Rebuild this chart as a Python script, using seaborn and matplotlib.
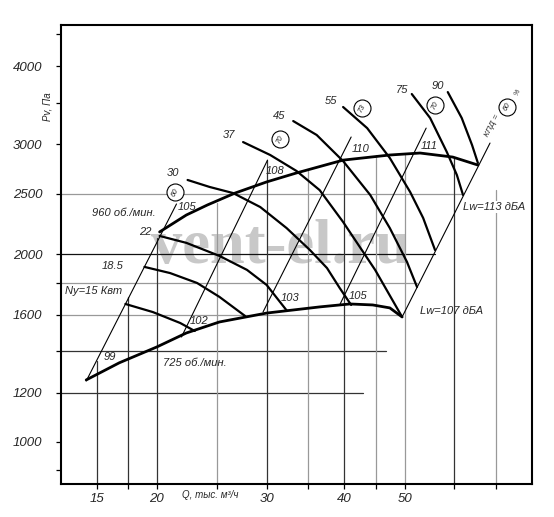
import matplotlib
matplotlib.use("Agg")
import matplotlib.pyplot as plt
import seaborn as sns
import numpy as np
from matplotlib.ticker import NullFormatter

# Speed curves (Q in thousand m3/h, Pv in Pa)
q_960 = [20.2, 22.3, 24.1, 26.7, 30.0, 33.5, 39.8, 47.3, 52.9, 59.7, 65.5]
p_960 = [2171, 2311, 2398, 2506, 2611, 2699, 2830, 2884, 2905, 2862, 2779]
q_725 = [15.4, 17.4, 20.0, 22.3, 25.2, 30.0, 36.5, 40.8, 44.4, 47.3, 49.5]
p_725 = [1257, 1339, 1420, 1495, 1557, 1609, 1646, 1664, 1658, 1640, 1586]

# Power curves, kW
power_labels = ["15", "18.5", "22", "30", "37", "45", "55", "75", "90"]
power_q = [
    [17.8, 19.7, 21.8, 23.0],
    [19.1, 21.0, 23.2, 25.2, 27.7],
    [20.2, 22.3, 25.2, 27.9, 30.0, 32.3],
    [22.4, 24.3, 26.5, 29.3, 32.3, 35.2, 37.5, 39.3, 41.0],
    [27.5, 30.4, 33.5, 36.5, 39.8, 44.8, 49.5],
    [33.1, 36.1, 39.8, 44.0, 47.3, 50.4, 52.3],
    [39.8, 43.5, 47.3, 51.0, 53.5, 55.9],
    [51.3, 54.9, 58.4, 60.6, 62.0],
    [58.6, 61.7, 64.1, 65.5],
]
power_p = [
    [1664, 1615, 1551, 1506],
    [1908, 1865, 1798, 1708, 1592],
    [2139, 2085, 1987, 1887, 1785, 1625],
    [2630, 2563, 2506, 2380, 2202, 2031, 1900, 1765, 1658],
    [3025, 2884, 2719, 2533, 2252, 1887, 1586],
    [3269, 3105, 2820, 2488, 2202, 1943, 1772],
    [3443, 3185, 2852, 2515, 2286, 2031],
    [3612, 3306, 2915, 2679, 2488],
    [3638, 3306, 2992, 2800],
]

# Efficiency lines (start / end)
eff_labels = ["60", "70", "73", "70", "60"]
eff_q = [[15.4, 21.5], [21.9, 30.1], [29.6, 41.0], [39.3, 54.1], [49.5, 68.5]]
eff_p = [[1252, 2407], [1473, 2830], [1615, 3082], [1658, 3185], [1586, 3014]]

# Partial grid lines
hgrid_p = [1200, 1400, 1600, 1800, 2000, 2500]
hgrid_qend = [42.8, 46.6, 49.5, 52.3, 55.8, 61.7]
hgrid_col = ["#333333", "#333333", "#999999", "#999999", "#111111", "#999999"]
vgrid_q = [16, 18, 20, 25, 30, 35, 40, 45, 50, 60, 70]
vgrid_ptop = [1348, 1708, 2123, 2415, 2830, 2720, 2830, 2884, 2884, 2852, 2533]
vgrid_col = ["#333333", "#333333", "#333333", "#999999", "#333333", "#999999",
             "#333333", "#999999", "#999999", "#333333", "#999999"]

x_major = [16, 20, 30, 40, 50]
x_major_labels = ["15", "20", "30", "40", "50"]
x_minor = [18, 25, 35, 45, 60, 70]
y_major = [1000, 1200, 1600, 2000, 2500, 3000, 4000]
y_minor = [900, 1400, 1800, 3500, 4500]

sns.set_style("white")
plt.rcParams['font.family'] = ['Liberation Sans', 'DejaVu Sans']

fig = plt.figure(figsize=(5.54, 5.17), dpi=100)
ax = fig.add_axes([0.1101, 0.0638, 0.8502, 0.8878])
ax.set_xscale('log')
ax.set_yscale('log')
ax.set_xlim(14.03, 80.0)
ax.set_ylim(856, 4660)

# watermark
ax.text(31.6, 1936, "vent-el.ru", ha='center', va='baseline', fontsize=45,
        family='Liberation Serif', weight='bold', color='#c8c8c8', zorder=0.5)

# grid lines
for p, qe, c in zip(hgrid_p, hgrid_qend, hgrid_col):
    ax.plot([14.03, qe], [p, p], color=c, lw=0.9, zorder=1)
for q, pt, c in zip(vgrid_q, vgrid_ptop, vgrid_col):
    ax.plot([q, q], [856, pt], color=c, lw=0.9, zorder=1)

# efficiency lines
for q, p in zip(eff_q, eff_p):
    sns.lineplot(x=q, y=p, ax=ax, color='black', lw=0.8, sort=False,
                 estimator=None, zorder=2)

# power curves
for q, p in zip(power_q, power_p):
    sns.lineplot(x=q, y=p, ax=ax, color='black', lw=1.6, sort=False,
                 estimator=None, zorder=3)

# speed curves
sns.lineplot(x=q_960, y=p_960, ax=ax, color='black', lw=2.0, sort=False,
             estimator=None, zorder=4)
sns.lineplot(x=q_725, y=p_725, ax=ax, color='black', lw=2.0, sort=False,
             estimator=None, zorder=4)

# efficiency circles
circ_q = [21.4, 31.5, 42.7, 55.9, 72.9]
circ_p = [2515, 3059, 3430, 3468, 3443]
ax.scatter(circ_q, circ_p, s=150, facecolor='white', edgecolor='black',
           lw=0.8, zorder=5)
for q, p, t in zip(circ_q, circ_p, eff_labels):
    ax.text(q, p, t, rotation=63, ha='center', va='center', fontsize=5.5,
            style='italic', zorder=6)
ax.text(69.2, 3210, "КПД =", rotation=63, ha='center', va='center',
        fontsize=6, style='italic', zorder=6)
ax.text(75.9, 3638, "%", rotation=63, ha='center', va='center',
        fontsize=5, style='italic', zorder=6)

# labels
txt = dict(fontsize=8, style='italic', zorder=6)
ax.text(15.73, 2328, "960 об./мин.", ha='left', va='center', **txt)
ax.text(20.45, 1339, "725 об./мин.", ha='left', va='center', **txt)
ax.text(14.23, 1746, "Ny=15 Квт", ha='left', va='center', **txt)
ax.text(17.0, 1915, "18.5", ha='center', va='center', **txt)
ax.text(19.13, 2171, "22", ha='center', va='center', **txt)
power_text_q = [21.2, 26.1, 31.4, 38.0, 49.5, 56.5]
power_text_p = [2699, 3105, 3330, 3520, 3665, 3720]
for q, p, t in zip(power_text_q, power_text_p, power_labels[3:]):
    ax.text(q, p, t, ha='center', va='center', **txt)

noise_q = [16.8, 23.4, 32.7, 42.0, 22.4, 30.9, 42.4, 54.7]
noise_p = [1368, 1563, 1701, 1714, 2380, 2719, 2949, 2982]
noise_t = ["99", "102", "103", "105", "105", "108", "110", "111"]
for q, p, t in zip(noise_q, noise_p, noise_t):
    ax.text(q, p, t, ha='center', va='center', **txt)

ax.text(62.0, 2380, "Lw=113 дБА", ha='left', va='center',
        bbox=dict(facecolor='white', edgecolor='none', pad=0.5), **txt)
ax.text(52.9, 1621, "Lw=107 дБА", ha='left', va='center', **txt)

# axes & ticks
ax.set_xticks(x_major, labels=x_major_labels)
ax.set_xticks(x_minor, minor=True)
ax.set_yticks(y_major, labels=[str(v) for v in y_major])
ax.set_yticks(y_minor, minor=True)
ax.xaxis.set_minor_formatter(NullFormatter())
ax.yaxis.set_minor_formatter(NullFormatter())
ax.tick_params(axis='both', which='both', direction='out', length=3.5,
               width=0.9, color='black', labelsize=9.5)
ax.tick_params(axis='y', which='both', left=True, pad=10)
ax.tick_params(axis='x', which='both', bottom=True, pad=3)
for lbl in ax.get_xticklabels() + ax.get_yticklabels():
    lbl.set_style('italic')

for s in ax.spines.values():
    s.set_color('black')
    s.set_linewidth(1.5)
    s.set_visible(True)

ax.set_xlabel("")
ax.set_ylabel("")
fig.text(48 / 554, 1 - 107 / 517, "Pv, Па", rotation=90, ha='center',
         va='center', fontsize=7, style='italic')
fig.text(210 / 554, 1 - 495 / 517, "Q, тыс. м³/ч", ha='center', va='center',
         fontsize=7, style='italic')

fig.savefig("out.png", dpi=100)
